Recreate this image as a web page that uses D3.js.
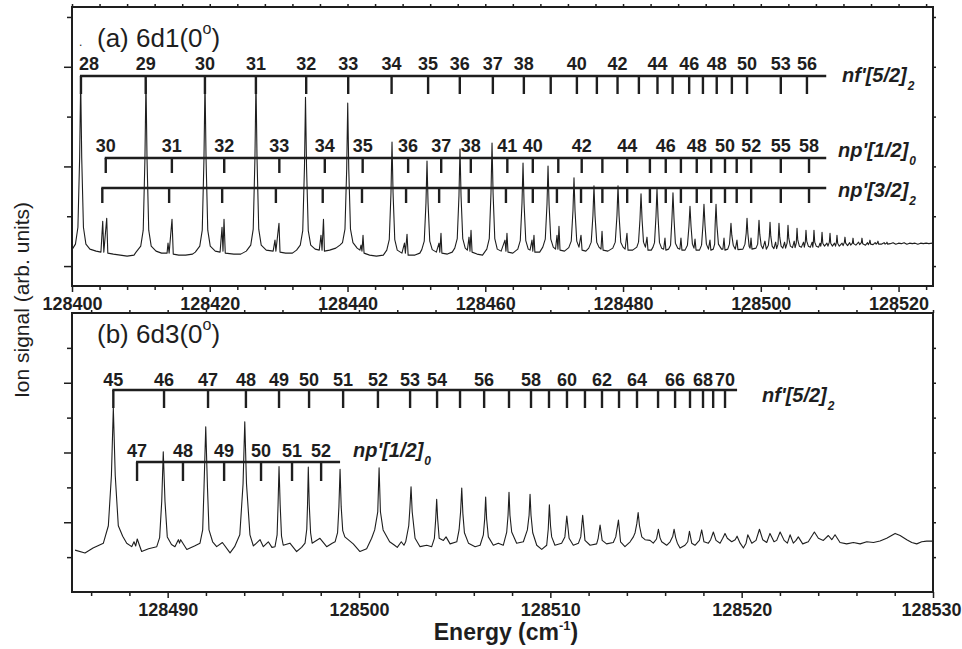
<!DOCTYPE html>
<html><head><meta charset="utf-8">
<script src="https://cdn.jsdelivr.net/npm/d3@7"></script>
<style>
body{margin:0;background:#fff}
svg{display:block}
text{font-family:"Liberation Sans",Arial,Helvetica,sans-serif;fill:#1e1e1e}
</style>
</head><body>
<svg id="chart" width="962" height="649"></svg>
<script>
// ---------------- DATA ----------------
const xMajorA = [128400,128420,128440,128460,128480,128500,128520];
const xMajorB = [128490,128500,128510,128520,128530];
const yMajorA = [0,2,4], yMinorA = [1,3,5];
const yMajorB = [0,1,2], yMinorB = [-0.5,0.5,1.5,2.5];

// panel (a) 6d1(0°) spectrum: [energy cm-1, signal]
const spectrumA = [[128400.05,0.34],[128400.50,0.44],[128400.86,0.78],[128401.11,2.18],[128401.26,3.73],[128401.41,2.18],[128401.66,0.78],[128402.02,0.44],[128402.6,0.34],[128403.5,0.30],[128404.2,0.28],[128404.46,0.90],[128404.62,0.28],[128405.04,0.96],[128405.2,0.26],[128406.0,0.24],[128407.0,0.22],[128408.0,0.20],[128409.0,0.22],[128409.3,0.28],[128409.98,0.40],[128410.34,0.72],[128410.59,2.16],[128410.74,3.73],[128410.89,2.16],[128411.14,0.72],[128411.50,0.40],[128412.2,0.30],[128413.0,0.26],[128413.8,0.26],[128413.94,0.46],[128414.1,0.26],[128414.52,0.94],[128414.7,0.24],[128415.5,0.22],[128416.5,0.22],[128417.5,0.24],[128417.9,0.28],[128418.55,0.40],[128418.91,0.72],[128419.16,2.16],[128419.31,3.73],[128419.46,2.16],[128419.71,0.72],[128420.07,0.40],[128420.8,0.30],[128421.5,0.28],[128421.78,0.78],[128421.92,0.30],[128422.07,0.94],[128422.25,0.26],[128423.5,0.24],[128424.5,0.24],[128425.3,0.30],[128425.95,0.42],[128426.31,0.74],[128426.56,2.17],[128426.71,3.73],[128426.86,2.17],[128427.11,0.74],[128427.47,0.42],[128428.2,0.32],[128429.2,0.30],[128429.47,0.52],[128429.6,0.30],[128430.05,0.86],[128430.2,0.28],[128431.0,0.26],[128432.0,0.26],[128432.6,0.32],[128433.14,0.42],[128433.5,0.71],[128433.75,1.99],[128433.90,3.39],[128434.05,1.99],[128434.3,0.71],[128434.66,0.42],[128435.3,0.34],[128435.9,0.32],[128436.15,0.62],[128436.3,0.32],[128436.51,0.94],[128436.65,0.30],[128437.4,0.32],[128438.3,0.36],[128438.9,0.42],[128439.27,0.47],[128439.63,0.74],[128439.88,1.95],[128440.03,3.27],[128440.18,1.95],[128440.43,0.74],[128440.79,0.47],[128441.4,0.36],[128441.8,0.32],[128441.96,0.42],[128442.1,0.30],[128442.25,0.62],[128442.4,0.26],[128443.2,0.22],[128444.2,0.20],[128445.2,0.22],[128445.7,0.32],[128446.06,0.53],[128446.31,1.47],[128446.46,2.49],[128446.61,1.47],[128446.86,0.53],[128447.22,0.32],[128447.9,0.26],[128448.27,0.46],[128448.4,0.26],[128448.64,0.64],[128448.8,0.22],[128449.8,0.22],[128450.5,0.26],[128450.78,0.33],[128451.14,0.50],[128451.39,1.27],[128451.54,2.11],[128451.69,1.27],[128451.94,0.50],[128452.3,0.33],[128452.9,0.28],[128453.28,0.46],[128453.4,0.28],[128453.57,0.66],[128453.7,0.26],[128454.5,0.24],[128455.2,0.28],[128455.57,0.36],[128455.93,0.55],[128456.18,1.41],[128456.33,2.35],[128456.48,1.41],[128456.73,0.55],[128457.09,0.36],[128457.4,0.32],[128457.64,0.58],[128457.78,0.30],[128457.93,0.72],[128458.08,0.28],[128458.8,0.24],[128459.6,0.22],[128460.22,0.34],[128460.58,0.55],[128460.83,1.47],[128460.98,2.47],[128461.13,1.47],[128461.38,0.55],[128461.74,0.34],[128462.3,0.30],[128462.86,0.52],[128463.0,0.30],[128463.15,0.66],[128463.3,0.28],[128464.0,0.26],[128464.72,0.34],[128465.08,0.51],[128465.33,1.26],[128465.48,2.07],[128465.63,1.26],[128465.88,0.51],[128466.24,0.34],[128466.5,0.32],[128466.78,0.52],[128466.9,0.30],[128467.07,0.62],[128467.2,0.28],[128467.9,0.28],[128468.35,0.38],[128468.71,0.54],[128468.96,1.24],[128469.11,2.01],[128469.26,1.24],[128469.51,0.54],[128469.87,0.38],[128470.2,0.34],[128470.41,0.62],[128470.55,0.34],[128470.70,0.80],[128470.85,0.32],[128471.5,0.30],[128472.12,0.37],[128472.48,0.50],[128472.73,1.11],[128472.88,1.77],[128473.03,1.11],[128473.28,0.50],[128473.6,0.38],[128473.9,0.62],[128474.05,0.32],[128474.6,0.30],[128475.02,0.36],[128475.38,0.48],[128475.63,1.02],[128475.78,1.61],[128475.93,1.02],[128476.18,0.48],[128476.5,0.38],[128476.8,0.34],[128476.95,0.70],[128477.1,0.32],[128477.8,0.30],[128478.51,0.36],[128478.87,0.48],[128479.12,1.02],[128479.27,1.61],[128479.42,1.02],[128479.67,0.48],[128480.0,0.38],[128480.3,0.34],[128480.57,0.66],[128480.72,0.32],[128481.4,0.32],[128482.0,0.38],[128482.25,0.48],[128482.46,0.94],[128482.61,1.45],[128482.76,0.94],[128482.97,0.48],[128483.25,0.38],[128483.48,0.58],[128483.62,0.32],[128484.1,0.32],[128484.35,0.38],[128484.57,0.47],[128484.78,0.99],[128484.93,1.55],[128485.08,0.99],[128485.29,0.47],[128485.6,0.36],[128485.9,0.34],[128486.09,0.56],[128486.22,0.32],[128486.6,0.34],[128486.9,0.42],[128487.1,0.95],[128487.25,1.47],[128487.4,0.95],[128487.6,0.46],[128487.95,0.36],[128488.25,0.34],[128488.41,0.56],[128488.55,0.32],[128489.0,0.32],[128489.35,0.42],[128489.57,0.80],[128489.72,1.20],[128489.87,0.80],[128490.07,0.44],[128490.3,0.36],[128490.45,0.54],[128490.6,0.32],[128491.1,0.32],[128491.4,0.42],[128491.6,0.82],[128491.75,1.24],[128491.9,0.82],[128492.1,0.44],[128492.4,0.34],[128492.62,0.52],[128492.75,0.32],[128493.1,0.34],[128493.3,0.44],[128493.37,0.82],[128493.50,1.24],[128493.63,0.82],[128493.85,0.44],[128494.3,0.34],[128494.5,0.34],[128494.66,0.56],[128494.8,0.32],[128495.2,0.34],[128495.45,0.44],[128495.55,0.62],[128495.67,0.86],[128495.79,0.62],[128496.0,0.42],[128496.3,0.34],[128496.54,0.52],[128496.68,0.33],[128497.4,0.34],[128497.7,0.44],[128497.88,0.66],[128498.0,0.96],[128498.12,0.66],[128498.3,0.40],[128498.45,0.36],[128498.58,0.56],[128498.72,0.34],[128499.3,0.36],[128499.55,0.44],[128499.63,0.64],[128499.74,0.92],[128499.85,0.64],[128500.05,0.42],[128500.3,0.35],[128500.6,0.50],[128500.8,0.34],[128501.1,0.42],[128501.24,0.60],[128501.34,0.88],[128501.45,0.60],[128501.65,0.40],[128501.9,0.35],[128502.15,0.48],[128502.3,0.35],[128502.5,0.44],[128502.64,0.86],[128502.75,0.58],[128502.95,0.40],[128503.2,0.36],[128503.45,0.48],[128503.6,0.36],[128503.82,0.46],[128503.95,0.82],[128504.06,0.56],[128504.3,0.40],[128504.6,0.37],[128504.85,0.50],[128504.98,0.37],[128505.15,0.46],[128505.26,0.76],[128505.37,0.52],[128505.6,0.40],[128505.9,0.38],[128506.2,0.48],[128506.32,0.38],[128506.46,0.48],[128506.56,0.72],[128506.67,0.50],[128506.9,0.40],[128507.2,0.38],[128507.45,0.48],[128507.55,0.38],[128507.63,0.48],[128507.72,0.72],[128507.83,0.48],[128508.05,0.40],[128508.4,0.38],[128508.6,0.46],[128508.7,0.40],[128508.8,0.48],[128508.89,0.68],[128509.0,0.46],[128509.25,0.40],[128509.6,0.46],[128509.75,0.40],[128509.95,0.48],[128510.05,0.66],[128510.15,0.46],[128510.4,0.40],[128510.7,0.46],[128510.85,0.40],[128510.98,0.48],[128511.06,0.62],[128511.16,0.46],[128511.4,0.40],[128511.8,0.46],[128511.95,0.41],[128512.14,0.48],[128512.22,0.58],[128512.32,0.46],[128512.6,0.41],[128512.9,0.47],[128513.05,0.42],[128513.3,0.46],[128513.39,0.56],[128513.48,0.45],[128513.8,0.42],[128514.2,0.48],[128514.35,0.43],[128514.6,0.47],[128514.69,0.56],[128514.79,0.45],[128515.2,0.42],[128515.5,0.47],[128515.6,0.43],[128515.77,0.47],[128515.85,0.52],[128515.95,0.44],[128516.3,0.43],[128516.6,0.47],[128516.75,0.44],[128516.94,0.47],[128517.01,0.50],[128517.1,0.44],[128517.5,0.44],[128517.9,0.47],[128518.05,0.44],[128518.25,0.46],[128518.32,0.48],[128518.4,0.44],[128518.8,0.45],[128519.2,0.47],[128519.6,0.44],[128520.0,0.46],[128520.4,0.45],[128520.8,0.47],[128521.2,0.44],[128521.6,0.46],[128522.0,0.45],[128522.4,0.46],[128522.8,0.44],[128523.2,0.46],[128523.6,0.45],[128524.0,0.46],[128524.4,0.45],[128524.9,0.46]];

// panel (b) 6d3(0°) spectrum: [energy cm-1, signal]
const spectrumB = [[128485.16,-0.40],[128485.68,-0.44],[128486.1,-0.37],[128486.64,-0.30],[128486.90,-0.05],[128487.06,0.67],[128487.16,1.64],[128487.26,0.67],[128487.42,-0.05],[128487.65,-0.20],[128487.86,-0.30],[128488.12,-0.35],[128488.24,-0.28],[128488.33,-0.34],[128488.41,-0.24],[128488.64,-0.42],[128489.0,-0.38],[128489.43,-0.35],[128489.58,-0.22],[128489.69,0.30],[128489.77,1.01],[128489.86,0.30],[128489.98,-0.21],[128490.2,-0.32],[128490.38,-0.35],[128490.56,-0.25],[128490.62,-0.30],[128490.68,-0.25],[128491.0,-0.39],[128491.4,-0.34],[128491.69,-0.30],[128491.83,-0.11],[128491.90,0.50],[128491.99,1.37],[128492.08,0.50],[128492.16,-0.11],[128492.35,-0.28],[128492.56,-0.35],[128492.86,-0.29],[128493.26,-0.44],[128493.5,-0.35],[128493.77,-0.18],[128493.94,0.55],[128494.03,1.44],[128494.12,0.55],[128494.30,-0.18],[128494.48,-0.34],[128494.83,-0.25],[128495.0,-0.35],[128495.26,-0.28],[128495.45,-0.36],[128495.61,-0.35],[128495.72,-0.18],[128495.77,0.25],[128495.82,0.80],[128495.88,0.25],[128495.95,-0.20],[128496.04,-0.33],[128496.39,-0.30],[128496.74,-0.42],[128497.0,-0.36],[128497.18,-0.30],[128497.27,-0.10],[128497.31,0.25],[128497.35,0.79],[128497.40,0.25],[128497.47,-0.15],[128497.55,-0.30],[128497.96,-0.23],[128498.31,-0.35],[128498.6,-0.30],[128498.75,-0.28],[128498.88,-0.15],[128498.95,0.22],[128499.01,0.76],[128499.07,0.22],[128499.15,-0.12],[128499.26,-0.21],[128499.70,-0.31],[128500.05,-0.42],[128500.4,-0.38],[128500.66,-0.23],[128500.82,-0.11],[128500.98,0.15],[128501.05,0.78],[128501.12,0.15],[128501.26,-0.11],[128501.6,-0.28],[128501.86,-0.33],[128502.0,-0.36],[128502.21,-0.28],[128502.35,-0.33],[128502.44,-0.28],[128502.6,-0.05],[128502.66,0.20],[128502.72,0.51],[128502.78,0.15],[128502.93,-0.23],[128503.19,-0.35],[128503.54,-0.33],[128503.80,-0.35],[128503.94,-0.23],[128504.01,0.05],[128504.06,0.33],[128504.11,0.05],[128504.19,-0.23],[128504.41,-0.26],[128504.55,-0.21],[128504.76,-0.31],[128505.11,-0.28],[128505.23,-0.11],[128505.31,0.15],[128505.37,0.49],[128505.43,0.12],[128505.51,-0.15],[128505.72,-0.30],[128506.07,-0.35],[128506.33,-0.33],[128506.50,-0.18],[128506.57,0.05],[128506.62,0.36],[128506.67,0.05],[128506.76,-0.21],[128507.02,-0.33],[128507.28,-0.30],[128507.54,-0.33],[128507.72,-0.14],[128507.79,0.10],[128507.84,0.43],[128507.89,0.10],[128507.98,-0.14],[128508.24,-0.30],[128508.59,-0.28],[128508.80,-0.11],[128508.89,0.10],[128508.94,0.40],[128508.99,0.10],[128509.08,-0.15],[128509.29,-0.33],[128509.55,-0.39],[128509.81,-0.33],[128509.89,-0.10],[128509.95,0.25],[128510.01,-0.05],[128510.07,-0.21],[128510.24,-0.33],[128510.59,-0.30],[128510.76,-0.21],[128510.86,0.09],[128510.98,-0.23],[128511.20,-0.33],[128511.47,-0.30],[128511.59,-0.21],[128511.69,0.10],[128511.81,-0.26],[128512.08,-0.33],[128512.42,-0.31],[128512.50,-0.23],[128512.60,-0.04],[128512.71,-0.26],[128512.94,-0.31],[128513.29,-0.29],[128513.42,-0.21],[128513.56,0.03],[128513.67,-0.28],[128513.90,-0.35],[128514.17,-0.28],[128514.34,-0.21],[128514.43,-0.15],[128514.52,-0.02],[128514.59,0.14],[128514.66,-0.05],[128514.78,-0.21],[128514.95,-0.25],[128515.21,-0.26],[128515.38,-0.30],[128515.55,-0.24],[128515.65,-0.10],[128515.73,-0.22],[128515.82,-0.28],[128516.08,-0.33],[128516.26,-0.28],[128516.40,-0.20],[128516.47,-0.10],[128516.55,-0.22],[128516.64,-0.30],[128516.78,-0.37],[128517.04,-0.33],[128517.18,-0.28],[128517.27,-0.13],[128517.39,-0.30],[128517.56,-0.33],[128517.79,-0.26],[128517.91,-0.11],[128518.03,-0.28],[128518.26,-0.30],[128518.38,-0.25],[128518.52,-0.14],[128518.66,-0.26],[128518.87,-0.30],[128519.01,-0.23],[128519.13,-0.16],[128519.25,-0.23],[128519.48,-0.28],[128519.66,-0.25],[128519.76,-0.20],[128519.92,-0.30],[128520.09,-0.37],[128520.23,-0.30],[128520.32,-0.18],[128520.53,-0.30],[128520.75,-0.26],[128520.93,-0.10],[128521.10,-0.25],[128521.31,-0.29],[128521.48,-0.16],[128521.69,-0.28],[128521.83,-0.26],[128522.01,-0.14],[128522.22,-0.26],[128522.39,-0.30],[128522.53,-0.18],[128522.70,-0.30],[128522.84,-0.26],[128522.96,-0.21],[128523.19,-0.31],[128523.48,-0.28],[128523.80,-0.14],[128524.01,-0.23],[128524.27,-0.26],[128524.53,-0.19],[128524.71,-0.25],[128524.88,-0.18],[128525.14,-0.29],[128525.49,-0.31],[128525.84,-0.29],[128526.19,-0.31],[128526.54,-0.28],[128526.89,-0.29],[128527.23,-0.27],[128527.58,-0.23],[128528.02,-0.16],[128528.28,-0.19],[128528.63,-0.25],[128528.89,-0.29],[128529.15,-0.31],[128529.41,-0.28],[128529.67,-0.27],[128530.0,-0.27]];

// Rydberg series assignments (energies in cm-1) and their labels
const nfA_E = [128401.3,128410.7,128419.3,128426.7,128434.0,128440.1,128446.4,128451.7,128456.3,128461.1,128465.6,128469.5,128473.3,128476.2,128479.2,128482.3,128485.0,128487.2,128489.6,128491.6,128493.6,128495.8,128498.0,128502.9,128506.7];
const nfA_labels = ["28","29","30","31","32","33","34","35","36","37","38","","40","","42","","44","","46","","48","","50","53","56"];
const npA1_E = [128404.9,128414.5,128422.1,128430.1,128436.7,128442.2,128448.8,128453.6,128457.9,128463.2,128466.9,128470.6,128474.0,128477.0,128480.6,128483.9,128486.2,128488.4,128490.7,128492.8,128494.8,128496.5,128498.6,128502.9,128507.0];
const npA1_labels = ["30","31","32","33","34","35","36","37","38","41","40","","42","","44","","46","","48","","50","","52","55","58"];
const npA3_E = [128404.4,128414.1,128421.8,128429.6,128436.4,128442.1,128448.5,128453.3,128457.6,128463.0,128466.9,128470.4,128473.9,128477.0,128480.6,128483.9,128486.2,128488.4,128490.7,128492.8,128494.8,128496.5,128498.6,128502.9,128507.0];
const combEndA = 128509.5;
const nfB_E = [128487.16,128489.81,128492.11,128494.09,128495.82,128497.39,128499.17,128500.99,128502.67,128504.08,128505.28,128506.54,128507.84,128508.99,128509.93,128510.87,128511.81,128512.70,128513.59,128514.53,128515.63,128516.52,128517.30,128517.98,128518.51,128519.13];
const nfB_labels = ["45","46","47","48","49","50","51","52","53","54","","56","","58","","60","","62","","64","","66","","68","","70"];
const nfB_end = 128519.76;
const npB_E = [128488.40,128490.80,128492.95,128494.88,128496.50,128498.02];
const npB_labels = ["47","48","49","50","51","52"];
const npB_end = 128499.01;

const seriesNames = ["nf'[5/2]","np'[1/2]","np'[3/2]"];
const seriesSubs = ["2","0","2"];

// ---------------- DRAWING ----------------
const ink = "#1e1e1e";
const svg = d3.select("#chart");
const X0 = 72, X1 = 933, W = 962;

function panel(P) {
  const g = svg.append("g");
  const xs = d3.scaleLinear().domain(P.xDomain).range([X0, X1]);
  const ys = d3.scaleLinear().domain(P.yDomain).range([P.bottom, P.top]);

  // spectrum
  g.append("path").datum(P.data)
    .attr("d", d3.line().x(d => xs(d[0])).y(d => ys(d[1])))
    .attr("fill", "none").attr("stroke", ink).attr("stroke-width", 1.1)
    .attr("stroke-linejoin", "round");

  // axes
  const ax = g.append("g");
  ax.append("g").attr("transform", `translate(0,${P.bottom})`)
    .call(d3.axisBottom(xs).tickValues(P.xMinor).tickSize(4).tickFormat("").tickSizeOuter(0));
  const major = ax.append("g").attr("transform", `translate(0,${P.bottom})`)
    .call(d3.axisBottom(xs).tickValues(P.xMajor).tickSize(6).tickPadding(5).tickFormat(d3.format("d")).tickSizeOuter(0));
  ax.append("g").attr("transform", `translate(0,${P.top})`)
    .call(d3.axisTop(xs).tickValues(P.xMinor.concat(P.xMajor)).tickSize(3).tickFormat("").tickSizeOuter(0));
  ax.append("g").attr("transform", `translate(${X0},0)`)
    .call(d3.axisLeft(ys).tickValues(P.yMinor).tickSize(5).tickFormat("").tickSizeOuter(0));
  ax.append("g").attr("transform", `translate(${X0},0)`)
    .call(d3.axisLeft(ys).tickValues(P.yMajor).tickSize(8).tickFormat("").tickSizeOuter(0));
  ax.append("g").attr("transform", `translate(${X1},0)`)
    .call(d3.axisRight(ys).tickValues(P.yMinor.concat(P.yMajor)).tickSize(3).tickFormat("").tickSizeOuter(0));
  ax.selectAll(".domain").remove();
  ax.selectAll(".tick line").attr("stroke", ink).attr("stroke-width", 1.5);
  ax.selectAll(".tick text").attr("fill", ink).attr("font-size", 18).attr("font-weight", "bold")
    .attr("font-family", "'Liberation Sans', Arial, sans-serif");
  // keep a label that sits on the right frame inside the page
  major.selectAll(".tick text").each(function() {
    const b = this.getBBox(), tx = xs(+d3.select(this.parentNode).datum());
    const over = tx + b.x + b.width - (W - 1);
    if (over > 0) d3.select(this).attr("dx", -over);
  });

  // frame
  g.append("rect").attr("x", X0).attr("y", P.top).attr("width", X1 - X0).attr("height", P.bottom - P.top)
    .attr("fill", "none").attr("stroke", ink).attr("stroke-width", 2);
  return {g, xs, ys};
}

function comb(g, xs, E, labels, endE, yLine, tickLen, labelY, minX) {
  g.append("line").attr("x1", xs(E[0]) - 1).attr("x2", xs(endE)).attr("y1", yLine).attr("y2", yLine)
    .attr("stroke", ink).attr("stroke-width", 2.4);
  g.selectAll(null).data(E).join("line")
    .attr("x1", d => xs(d)).attr("x2", d => xs(d)).attr("y1", yLine).attr("y2", yLine + tickLen)
    .attr("stroke", ink).attr("stroke-width", 2.4);
  if (labels) {
    g.selectAll(null).data(E.map((e, i) => ({e, l: labels[i]})).filter(d => d.l)).join("text")
      .attr("x", d => Math.max(xs(d.e), minX)).attr("y", labelY)
      .attr("text-anchor", "middle").attr("font-weight", "bold").attr("font-size", 18)
      .text(d => d.l);
  }
}

function seriesLabel(x, y, i) {
  const t = svg.append("text").attr("x", x).attr("y", y)
    .attr("font-weight", "bold").attr("font-style", "italic").attr("font-size", 20);
  t.append("tspan").text(seriesNames[i]);
  t.append("tspan").attr("font-size", 12).attr("dy", 8).attr("dx", 1).text(seriesSubs[i]);
}

function title(x, y, txt) {
  const t = svg.append("text").attr("x", x).attr("y", y).attr("font-size", 26);
  t.append("tspan").text(txt);
  t.append("tspan").attr("font-size", 16).attr("dy", -13).text("o");
  t.append("tspan").attr("dy", 13).text(")");
}

// panel (a)
const A = panel({top: 7, bottom: 286, xDomain: [128400, 128525], yDomain: [-0.4, 5.2],
  data: spectrumA, xMajor: xMajorA, xMinor: d3.range(128404, 128525, 4).filter(v => !xMajorA.includes(v)),
  yMajor: yMajorA, yMinor: yMinorA});
comb(A.g, A.xs, nfA_E, nfA_labels, combEndA, 76, 18, 70, 89);
comb(A.g, A.xs, npA1_E, npA1_labels, combEndA, 158, 15, 152, 89);
comb(A.g, A.xs, npA3_E, null, combEndA, 188, 15, 0, 89);
seriesLabel(842, 82, 0);
seriesLabel(838, 157, 1);
seriesLabel(838, 197, 2);
title(97, 47, "(a) 6d1(0");
svg.append("text").attr("x", 79).attr("y", 46).attr("font-size", 12).text(".");

// panel (b)
const B = panel({top: 313, bottom: 592, xDomain: [128485, 128530], yDomain: [-1, 3],
  data: spectrumB, xMajor: xMajorB, xMinor: d3.range(128486, 128530, 2).filter(v => !xMajorB.includes(v)),
  yMajor: yMajorB, yMinor: yMinorB});
comb(B.g, B.xs, nfB_E, nfB_labels, nfB_end, 390, 18, 386, 89);
comb(B.g, B.xs, npB_E, npB_labels, npB_end, 462, 19, 457, 89);
seriesLabel(762, 402, 0);
seriesLabel(353, 457, 1);
title(97, 343, "(b) 6d3(0");

// axis titles
svg.append("text").attr("transform", "translate(29,300) rotate(-90)")
  .attr("text-anchor", "middle").attr("font-size", 21).text("Ion signal (arb. units)");
const xl = svg.append("text").attr("x", 506).attr("y", 640).attr("text-anchor", "middle")
  .attr("font-size", 23).attr("font-weight", "bold");
xl.append("tspan").text("Energy (cm");
xl.append("tspan").attr("font-size", 13).attr("dy", -10).text("-1");
xl.append("tspan").attr("dy", 10).text(")");
</script>
</body></html>
